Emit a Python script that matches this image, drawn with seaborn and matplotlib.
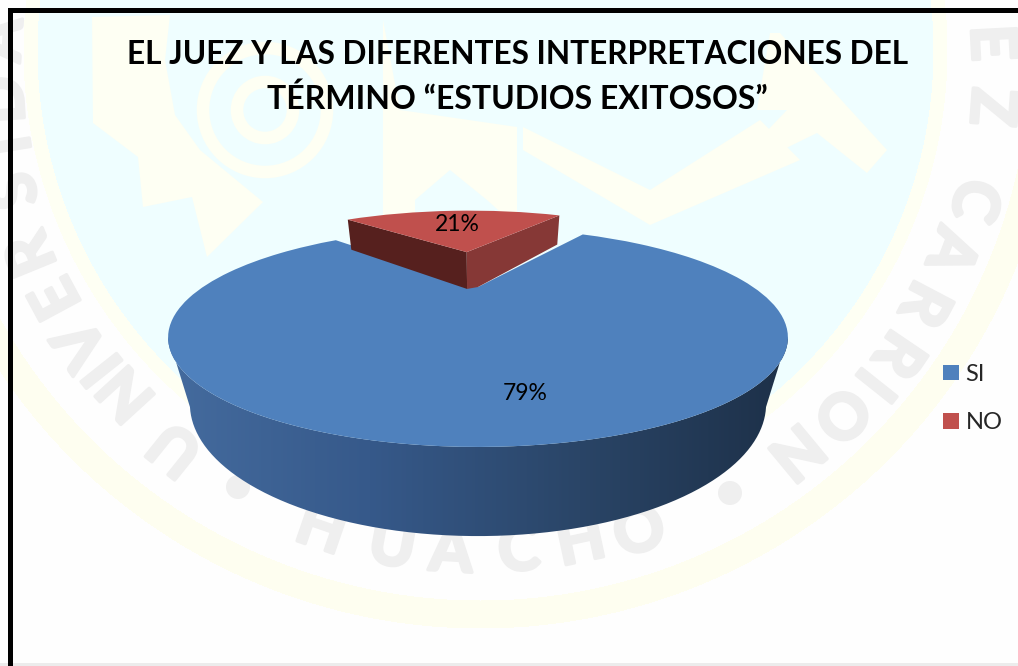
import numpy as np
import matplotlib
matplotlib.use("Agg")
import matplotlib.pyplot as plt
import matplotlib.patheffects as pe
import matplotlib.transforms as mtransforms
from matplotlib.patches import Circle, Polygon
import seaborn as sns

# datos del grafico
labels = ["SI", "NO"]
values = [79, 21]
explode = [0, 0.5]
title_lines = ["EL JUEZ Y LAS DIFERENTES INTERPRETACIONES DEL", "TÉRMINO “ESTUDIOS EXITOSOS”"]

# colores
blue = "#4F81BD"
red = "#C0504D"
red_left = "#56201E"
red_right = "#863836"
side_colors = ["#456C9F", "#36598A", "#2A4567", "#1D3048"]
mark_gray = "#EFEFEF"
pale_yellow = "#FEFFF3"

# marca de agua (letra, x, y en pixeles)
arc_letters = [("U", 177, 447), ("N", 128, 392), ("I", 105, 368), ("V", 83, 343), ("E", 58, 297),
               ("R", 33, 253), ("S", 17, 190), ("I", 12, 145), ("D", 5, 100), ("A", 3, 40),
               ("C", 973, 200), ("A", 950, 250), ("R", 923, 303), ("R", 897, 353), ("I", 873, 383),
               ("O", 840, 413), ("N", 795, 450), ("Z", 990, 107), ("E", 990, 43)]
bottom_letters = [("H", 321, 530), ("U", 392, 547), ("A", 451, 553), ("C", 519, 552), ("H", 581, 543), ("O", 640, 533)]
logo_shapes = [
    [(92, 17), (93, 123), (138, 157), (143, 207), (192, 197), (207, 257), (263, 202), (200, 150), (175, 115), (165, 60), (170, 15)],
    [(770, 33), (780, 33), (887, 150), (867, 173), (817, 133), (778, 152), (765, 133), (787, 110), (757, 110)],
    [(383, 20), (383, 227), (415, 227), (415, 200), (450, 170), (487, 200), (517, 227), (517, 127), (400, 110)],
    [(523, 127), (650, 190), (760, 120), (800, 160), (650, 225), (523, 150)],
]

# perspectiva: del circulo unidad del pie a pixeles
K, M, A, B, C = 0.461, 0.06, 275.0, 86.2, 63.0
CX, CY = 478, 287


def project(x, y, z=0.0):
    w = 1 + K * np.asarray(y) + M * z
    return CX + A * np.asarray(x) / w, CY - (B * np.asarray(y) - C * z) / w


class Perspective(mtransforms.Transform):
    input_dims = 2
    output_dims = 2

    def transform_non_affine(self, values):
        px, py = project(values[:, 0], values[:, 1])
        return np.column_stack([px, py])


sns.set_theme(style="white")
plt.rcParams["font.family"] = ["Lato", "DejaVu Sans"]

fig = plt.figure(figsize=(10.18, 6.66), dpi=100)
ax = fig.add_axes([0, 0, 1, 1])

# fondo
yy, xx = np.mgrid[0:666, 0:1018]
dist = np.hypot(xx - 485, yy - 50)
bg = np.full((666, 1018, 3), 254 / 255)
bg[dist < 462] = matplotlib.colors.to_rgb(pale_yellow)
bg[dist < 448] = matplotlib.colors.to_rgb("#EFFEFF")
ring = np.hypot(xx - 480, yy - 50)
bg[(ring > 550) & (ring < 578)] = matplotlib.colors.to_rgb("#FEFEF0")
bg[663:] = matplotlib.colors.to_rgb("#ECECEC")
ax.imshow(bg, extent=(0, 1018, 666, 0), aspect="auto", zorder=0)

for shape in logo_shapes:
    ax.add_patch(Polygon(shape, fc=pale_yellow, ec="none", zorder=0.5))
ax.add_patch(Circle((265, 110), 62, fc="none", ec=pale_yellow, lw=9, zorder=0.5))
ax.add_patch(Circle((265, 110), 28, fc="none", ec=pale_yellow, lw=9, zorder=0.5))

for letters, flip in [(arc_letters, 0), (bottom_letters, 180)]:
    for ch, lx, ly in letters:
        rot = np.degrees(np.arctan2(-(ly - 70), lx - 480)) - 90 + flip
        ax.text(lx, ly, ch, fontsize=45, fontweight="bold", color=mark_gray, rotation=rot,
                rotation_mode="anchor", ha="center", va="center", zorder=1,
                path_effects=[pe.withStroke(linewidth=2.5, foreground=mark_gray)])
ax.add_patch(Circle((238, 487), 12, fc=mark_gray, ec="none", zorder=1))
ax.add_patch(Circle((730, 493), 12, fc=mark_gray, ec="none", zorder=1))

# pie
start = 95.8 + 360 * values[1] / sum(values) / 2
wedges, _, autotexts = ax.pie(values, explode=explode, colors=[blue, red], startangle=start,
                              autopct="%1.0f%%", pctdistance=0.6, radius=1,
                              wedgeprops={"linewidth": 0},
                              textprops={"fontsize": 16.5, "color": "black"})
to_px = Perspective() + ax.transData
for w in wedges:
    w.set_transform(to_px)
    w.set_zorder(4)
autotexts[0].set_position(np.array(autotexts[0].get_position()) * [1.8, 1.32])
for t in autotexts:
    t.set_transform(to_px)
    t.set_zorder(6)
wedges[1].set_zorder(5.5)

# lateral del SI con degradado
front = np.radians(np.linspace(207, 333, 80))
tx, ty = project(np.cos(front), np.sin(front), 0)
bx, by = project(np.cos(front), np.sin(front), 1)
side = Polygon(np.column_stack([np.r_[tx, bx[::-1]], np.r_[ty, by[::-1]]]), fc="none", ec="none")
ax.add_patch(side)
im = ax.imshow(np.linspace(0, 1, 256)[None, :], extent=(160, 790, 540, 300), aspect="auto",
               cmap=sns.blend_palette(side_colors, as_cmap=True), zorder=3)
im.set_clip_path(side)

# caras interiores del NO
theta_a = np.radians(wedges[1].theta1)
theta_b = np.radians(wedges[1].theta2)
mid = (theta_a + theta_b) / 2
ox, oy = explode[1] * np.cos(mid), explode[1] * np.sin(mid)
red_depth = 0.72
ex, ey = ox + np.cos(theta_b), oy + np.sin(theta_b)
px, py = project(np.array([ox, ex, ex, ox]), np.array([oy, ey, ey, oy]),
                 np.array([0, 0, red_depth, red_depth]))
ax.add_patch(Polygon(np.column_stack([px, py]), fc=red_left, ec="none", zorder=5))
# la cara derecha llega hasta el vertice del SI
ex, ey = ox + np.cos(theta_a), oy + np.sin(theta_a)
px, py = project(np.array([ox, ex, ex, 0, ox]), np.array([oy, ey, ey, 0, oy]),
                 np.array([0, 0, red_depth, 0, red_depth]))
ax.add_patch(Polygon(np.column_stack([px, py]), fc=red_right, ec="none", zorder=5))

# titulo
ax.text(518, 55, title_lines[0], fontsize=22.8, fontweight="bold", color="black", ha="center", va="center", zorder=7)
ax.text(517, 99, title_lines[1], fontsize=23.0, fontweight="bold", color="black", ha="center", va="center", zorder=7)

# marco negro
ax.plot([10.5, 10.5], [666, 9.5], color="black", lw=3.6, solid_capstyle="projecting", zorder=8)
ax.plot([10.5, 1018], [9.5, 9.5], color="black", lw=3.6, solid_capstyle="projecting", zorder=8)

ax.legend(wedges, labels, loc="upper left", bbox_to_anchor=(934, 354.5), bbox_transform=ax.transData,
          frameon=False, fontsize=17, handlelength=0.64, handleheight=0.64, handletextpad=0.3,
          labelspacing=1.15, borderpad=0.4, borderaxespad=0).set_zorder(7)

ax.set_aspect("auto")
ax.set_xlim(0, 1018)
ax.set_ylim(666, 0)
ax.axis("off")

plt.savefig("out.png", dpi=100)
